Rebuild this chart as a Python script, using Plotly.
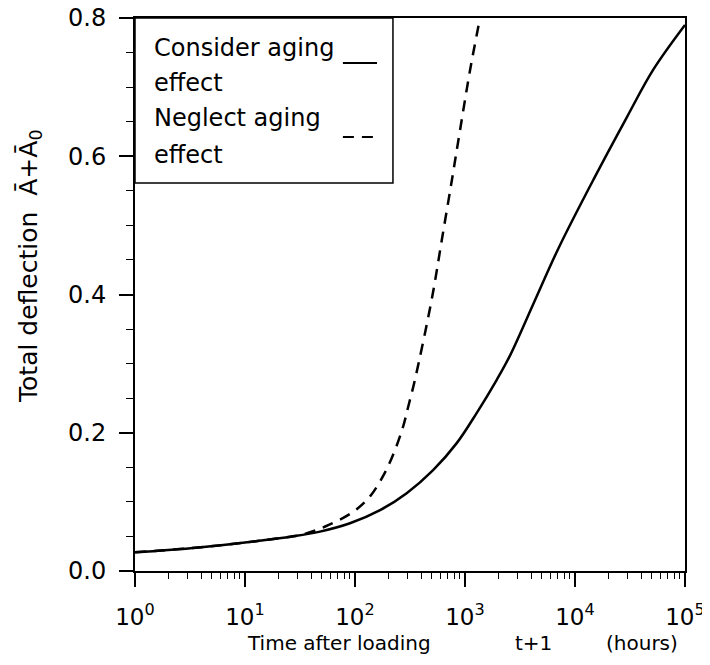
import plotly.graph_objects as go

# Data
t_aging = [1, 3.2, 7.3, 14, 26, 48, 90, 169, 295, 513, 841, 1276, 1950, 2570, 4170, 7080, 14800, 29500, 51300, 100000]
d_aging = [0.027, 0.033, 0.0387, 0.044, 0.0497, 0.057, 0.069, 0.088, 0.1126, 0.146, 0.185, 0.2285, 0.277, 0.312,
           0.386, 0.467, 0.567, 0.656, 0.725, 0.79]

t_noaging = [1, 3.2, 7.3, 14, 26, 32, 53, 97, 137, 186, 231, 275, 305, 351, 501, 617, 759, 902, 1110, 1370]
d_noaging = [0.027, 0.033, 0.0387, 0.044, 0.0497, 0.052, 0.064, 0.086, 0.108, 0.1416, 0.175, 0.21, 0.238, 0.277,
             0.395, 0.48, 0.565, 0.638, 0.724, 0.8]

x_tickvals = [1, 10, 100, 1000, 10000, 100000]
x_ticktext = ["10<sup>0</sup>", "10<sup>1</sup>", "10<sup>2</sup>", "10<sup>3</sup>", "10<sup>4</sup>", "10<sup>5</sup>"]
x_minor_tickvals = [m * 10 ** k for k in range(5) for m in range(2, 10)]
y_tickvals = [0.0, 0.2, 0.4, 0.6, 0.8]
y_ticktext = ["0.0", "0.2", "0.4", "0.6", "0.8"]

legend_labels = [["Consider aging", "effect"], ["Neglect aging", "effect"]]
x_title_parts = ["Time after loading", "t+1", "(hours)"]
y_title = "Total deflection  Ā+Ā<sub>0</sub>"

FONT = "DejaVu Sans"

fig = go.Figure()
fig.add_trace(go.Scatter(x=t_aging, y=d_aging, mode="lines",
                         line=dict(color="black", width=2.5, shape="spline", smoothing=1.0),
                         showlegend=False))
fig.add_trace(go.Scatter(x=t_noaging, y=d_noaging, mode="lines",
                         line=dict(color="black", width=2.5, shape="spline", smoothing=1.0, dash="11px,8px"),
                         showlegend=False))

# page body has an 8px margin: figure is sized so it fills the 710x665 window
fig.update_layout(
    width=702, height=657,
    margin=dict(l=127, r=25, t=10, b=94),
    paper_bgcolor="white", plot_bgcolor="white",
    font=dict(family=FONT, color="black", size=22),
    xaxis=dict(type="log", range=[0, 5], tickvals=x_tickvals, ticktext=x_ticktext,
               ticks="outside", ticklen=14, tickwidth=1.5, tickcolor="black",
               showline=True, linecolor="black", linewidth=2, mirror=True,
               showgrid=False, zeroline=False, automargin=False, ticklabeloverflow="allow",
               tickfont=dict(size=23, family=FONT), ticklabelstandoff=10,
               minor=dict(tickmode="array", tickvals=x_minor_tickvals, ticks="outside", ticklen=6,
                          tickwidth=1.2, tickcolor="black", showgrid=False)),
    yaxis=dict(range=[0, 0.8], tickvals=y_tickvals, ticktext=y_ticktext,
               ticks="outside", ticklen=14, tickwidth=1.5, tickcolor="black",
               showline=True, linecolor="black", linewidth=2, mirror=True,
               showgrid=False, zeroline=False, automargin=False, ticklabeloverflow="allow",
               tickfont=dict(size=24, family=FONT), ticklabelstandoff=8,
               minor=dict(dtick=0.05, ticks="outside", ticklen=7, tickwidth=1.2, tickcolor="black", showgrid=False)),
)

# X-axis title pieces (spaced as in the reference)
for txt, xx, anc in zip(x_title_parts, [0.2, 0.687, 0.991], ["left", "left", "right"]):
    fig.add_annotation(text=txt, xref="paper", yref="paper", x=xx, y=-0.130, showarrow=False,
                       xanchor=anc, yanchor="middle", font=dict(size=20, family=FONT))

# Y-axis title
fig.add_annotation(text=y_title, xref="paper", yref="paper", x=-0.191, y=0.5515,
                   textangle=-90, showarrow=False, font=dict(size=25, family=FONT),
                   xanchor="center", yanchor="middle")

# Legend box
fig.add_shape(type="rect", xref="paper", yref="paper", x0=0, x1=0.469, y0=0.7016, y1=1.0,
              line=dict(color="black", width=1.5), fillcolor="white", layer="above")
text_ys = [[0.9458, 0.8825], [0.8192, 0.7523]]
for lab, ys in zip(legend_labels, text_ys):
    for txt, yy in zip(lab, ys):
        fig.add_annotation(text=txt, xref="paper", yref="paper", x=0.031, y=yy, showarrow=False,
                           xanchor="left", yanchor="middle", font=dict(size=24, family=FONT))
fig.add_shape(type="line", xref="paper", yref="paper", x0=0.378, x1=0.44, y0=0.9186, y1=0.9186,
              line=dict(color="black", width=2), layer="above")
fig.add_shape(type="line", xref="paper", yref="paper", x0=0.378, x1=0.44, y0=0.7848, y1=0.7848,
              line=dict(color="black", width=2, dash="11px,8px"), layer="above")

fig.write_html("out.html")
